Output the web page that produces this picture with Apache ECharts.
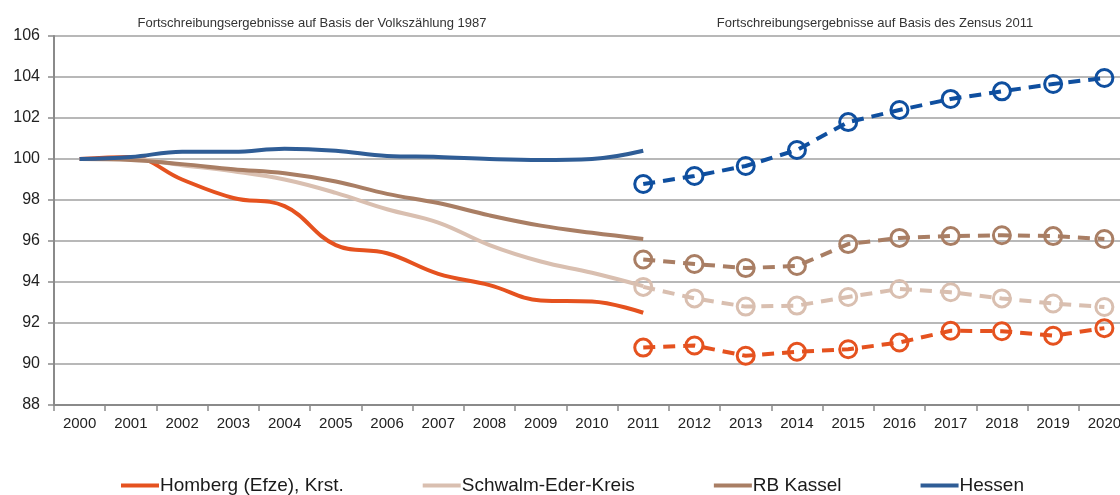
<!DOCTYPE html>
<html>
<head>
<meta charset="utf-8">
<script src="https://cdn.jsdelivr.net/npm/echarts@6/dist/echarts.min.js"></script>
<style>
  html, body { margin: 0; padding: 0; background: #fff; overflow: hidden; }
  #chart { width: 1130px; height: 495px; }
</style>
</head>
<body>
<div id="chart"></div>
<script>
const years = ['2000', '2001', '2002', '2003', '2004', '2005', '2006', '2007', '2008', '2009', '2010',
  '2011', '2012', '2013', '2014', '2015', '2016', '2017', '2018', '2019', '2020']

// Fortschreibung auf Basis der Volkszählung 1987 (2000–2011)
const hombergVz = [100, 100.1, 99.0, 98.1, 97.7, 95.8, 95.4, 94.4, 93.85, 93.1, 93.05, 92.5]
const schwalmVz = [100, 100, 99.7, 99.4, 99.0, 98.35, 97.55, 96.9, 95.8, 95.0, 94.45, 93.8]
const kasselVz = [100, 99.95, 99.75, 99.5, 99.3, 98.9, 98.3, 97.85, 97.25, 96.75, 96.4, 96.1]
const hessenVz = [100, 100.1, 100.35, 100.35, 100.5, 100.4, 100.15, 100.1, 100.0, 99.95, 100.0, 100.4]

// Fortschreibung auf Basis des Zensus 2011 (2011–2020)
const hombergZ = [90.8, 90.9, 90.4, 90.6, 90.72, 91.05, 91.62, 91.6, 91.38, 91.75]
const schwalmZ = [93.76, 93.2, 92.8, 92.85, 93.27, 93.66, 93.5, 93.2, 92.95, 92.78]
const kasselZ = [95.1, 94.88, 94.68, 94.78, 95.85, 96.15, 96.24, 96.28, 96.24, 96.1]
const hessenZ = [98.78, 99.17, 99.66, 100.44, 101.8, 102.39, 102.93, 103.3, 103.66, 103.95]

const names = ['Homberg (Efze), Krst.', 'Schwalm-Eder-Kreis', 'RB Kassel', 'Hessen']
const colors = ['#e5521f', '#d9bfb0', '#a97e64', '#2f5d96']
const zensusColors = ['#e5521f', '#d9bfb0', '#a97e64', '#0f4f9f']

const font = 'Liberation Sans, Arial, sans-serif'

function solid(name, data, color) {
  return {
    name, type: 'line', data, smooth: 0.4, symbol: 'none',
    lineStyle: { color, width: 4 }, itemStyle: { color }, z: 3,
  }
}

function dashed(name, data, color) {
  // Zensus-Werte beginnen bei 2011
  const padded = years.map((y, i) => (i < 11 ? null : data[i - 11]))
  return {
    name: name + ' (Zensus 2011)', type: 'line', data: padded,
    symbol: 'circle', symbolSize: 17, showAllSymbol: true,
    lineStyle: { color, width: 4, type: [12, 8] },
    itemStyle: { color: 'transparent', borderColor: color, borderWidth: 3 },
    z: 4,
  }
}

const chart = echarts.init(document.getElementById('chart'))
chart.setOption({
  animation: false,
  textStyle: { fontFamily: font },
  grid: { left: 54, right: 0, top: 36, bottom: 90, containLabel: false },
  title: [
    { text: 'Fortschreibungsergebnisse auf Basis der Volkszählung 1987', left: 307, top: 12, textAlign: 'center',
      textStyle: { fontSize: 13, fontWeight: 'normal', color: '#333', fontFamily: font } },
    { text: 'Fortschreibungsergebnisse auf Basis des Zensus 2011', left: 870, top: 12, textAlign: 'center',
      textStyle: { fontSize: 13, fontWeight: 'normal', color: '#333', fontFamily: font } },
  ],
  legend: {
    data: names.map((name, i) => ({ name, itemStyle: { color: colors[i] }, lineStyle: { color: colors[i], width: 4 } })),
    left: 116, top: 471, itemWidth: 38, itemHeight: 4, itemGap: 79, icon: 'rect',
    textStyle: { fontSize: 19, color: '#1a1a1a', fontFamily: font, padding: [0, 0, 0, -4] },
  },
  xAxis: {
    type: 'category', data: years, boundaryGap: true,
    axisLine: { lineStyle: { color: '#8a8a8a', width: 2 } },
    axisTick: { show: true, alignWithLabel: false, length: 6, lineStyle: { color: '#8a8a8a', width: 1.5 } },
    axisLabel: { color: '#222', fontSize: 15, margin: 11 },
  },
  yAxis: {
    type: 'value', min: 88, max: 106, interval: 2,
    axisLine: { show: true, lineStyle: { color: '#8a8a8a', width: 2 } },
    axisTick: { show: true, length: 6, lineStyle: { color: '#8a8a8a', width: 1.5 } },
    axisLabel: { color: '#222', fontSize: 16, margin: 14 },
    splitLine: { lineStyle: { color: '#b8b8b8', width: 2 } },
  },
  series: [
    solid(names[0], hombergVz, colors[0]),
    solid(names[1], schwalmVz, colors[1]),
    solid(names[2], kasselVz, colors[2]),
    solid(names[3], hessenVz, colors[3]),
    dashed(names[0], hombergZ, zensusColors[0]),
    dashed(names[1], schwalmZ, zensusColors[1]),
    dashed(names[2], kasselZ, zensusColors[2]),
    dashed(names[3], hessenZ, zensusColors[3]),
  ],
})
</script>
</body>
</html>
